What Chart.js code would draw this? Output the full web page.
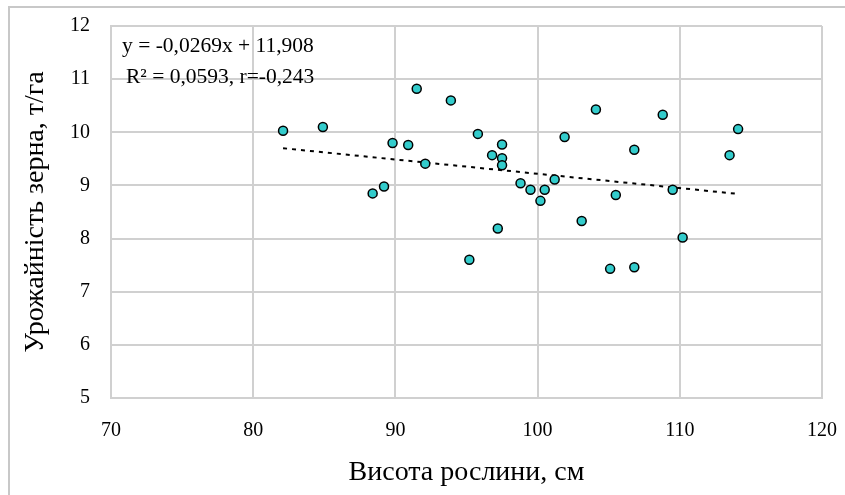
<!DOCTYPE html>
<html>
<head>
<meta charset="utf-8">
<script src="https://cdn.jsdelivr.net/npm/chart.js@4.4.0/dist/chart.umd.min.js"></script>
<style>
    html, body { margin: 0; padding: 0; background: #fff; }
    #wrap { width: 845px; height: 495px; }
</style>
</head>
<body>
<div id="wrap"><canvas id="chart" width="845" height="495"></canvas></div>
<script>
// Висота рослини (см) і урожайність (т/га)
var plantHeight = [82.1, 84.9, 88.4, 89.2, 89.8, 90.9, 91.5, 92.1, 93.9, 95.2,
                   95.8, 96.8, 97.2, 97.5, 97.5, 97.5, 98.8, 99.5, 100.2, 100.5,
                   101.2, 101.9, 103.1, 104.1, 105.1, 105.5, 106.8, 106.8, 108.8,
                   109.5, 110.2, 113.5, 114.1];
var grainYield = [10.03, 10.10, 8.85, 8.98, 9.80, 9.76, 10.82, 9.41, 10.60, 7.60,
                  9.97, 9.57, 8.19, 9.77, 9.51, 9.38, 9.04, 8.92, 8.71, 8.92,
                  9.11, 9.91, 8.33, 10.43, 7.43, 8.82, 9.67, 7.46, 10.33,
                  8.92, 8.02, 9.57, 10.06];

// лінія тренду (кінці, як на малюнку)
var trendX = [82.1, 114.1];
var trendY = [9.70, 8.84];

var xTicks = [70, 80, 90, 100, 110, 120];
var yTicks = [5, 6, 7, 8, 9, 10, 11, 12];

var trendText = ['y = -0,0269x + 11,908', 'R\u00b2 = 0,0593, r=-0,243'];

var serif = "'Liberation Serif', 'Times New Roman', serif";
var gridColor = '#d0d0d0';

function toPoints(xs, ys) {
    return xs.map(function (x, i) { return { x: x, y: ys[i] }; });
}

var decorPlugin = {
    id: 'decor',
    beforeDraw: function (chart) {
        var ctx = chart.ctx;
        ctx.save();
        ctx.fillStyle = '#ffffff';
        ctx.fillRect(0, 0, chart.width, chart.height);
        ctx.strokeStyle = '#c8c8c8';
        ctx.lineWidth = 2;
        ctx.strokeRect(9, 7, chart.width + 10, chart.height + 10);
        ctx.restore();
    },
    afterDatasetsDraw: function (chart) {
        var ctx = chart.ctx;
        ctx.save();
        ctx.fillStyle = '#000';
        ctx.font = '21.5px ' + serif;
        ctx.textBaseline = 'alphabetic';
        ctx.fillText(trendText[0], 122, 52);
        ctx.fillText(trendText[1], 126, 83);
        ctx.restore();
    }
};

new Chart(document.getElementById('chart'), {
    type: 'scatter',
    data: {
        datasets: [{
            label: 'Урожайність',
            data: toPoints(plantHeight, grainYield),
            backgroundColor: '#33cccc',
            borderColor: '#000000',
            borderWidth: 1.5,
            pointRadius: 4.5,
            order: 1
        }, {
            type: 'line',
            label: 'Тренд',
            data: toPoints(trendX, trendY),
            borderColor: '#000000',
            borderWidth: 2,
            borderDash: [4, 5],
            pointRadius: 0,
            fill: false,
            order: 2
        }]
    },
    options: {
        responsive: false,
        animation: false,
        layout: { padding: { left: 0, top: 26, right: 23, bottom: 0 } },
        plugins: {
            legend: { display: false },
            tooltip: { enabled: false }
        },
        scales: {
            x: {
                type: 'linear',
                min: 70,
                max: 120,
                afterBuildTicks: function (scale) {
                    scale.ticks = xTicks.map(function (v) { return { value: v }; });
                },
                afterFit: function (scale) {
                    scale.height = 97;
                    scale.paddingLeft = 0;
                    scale.paddingRight = 0;
                },
                grid: { color: gridColor, lineWidth: 2, drawTicks: false },
                border: { color: gridColor, width: 2 },
                ticks: {
                    padding: 21,
                    color: '#000',
                    font: { family: serif, size: 20 }
                },
                title: {
                    display: true,
                    text: 'Висота рослини, см',
                    color: '#000',
                    font: { family: serif, size: 28 },
                    padding: { top: 0, bottom: 6 }
                }
            },
            y: {
                min: 5,
                max: 12,
                afterBuildTicks: function (scale) {
                    scale.ticks = yTicks.map(function (v) { return { value: v }; });
                },
                afterFit: function (scale) {
                    scale.width = 111;
                    scale.paddingTop = 0;
                    scale.paddingBottom = 0;
                },
                grid: { color: gridColor, lineWidth: 2, drawTicks: false },
                border: { color: gridColor, width: 2 },
                ticks: {
                    padding: 21,
                    color: '#000',
                    font: { family: serif, size: 20 }
                },
                title: {
                    display: true,
                    text: 'Урожайність зерна, т/га',
                    color: '#000',
                    font: { family: serif, size: 28 },
                    padding: { top: 19, bottom: 0 }
                }
            }
        }
    },
    plugins: [decorPlugin]
});
</script>
</body>
</html>
